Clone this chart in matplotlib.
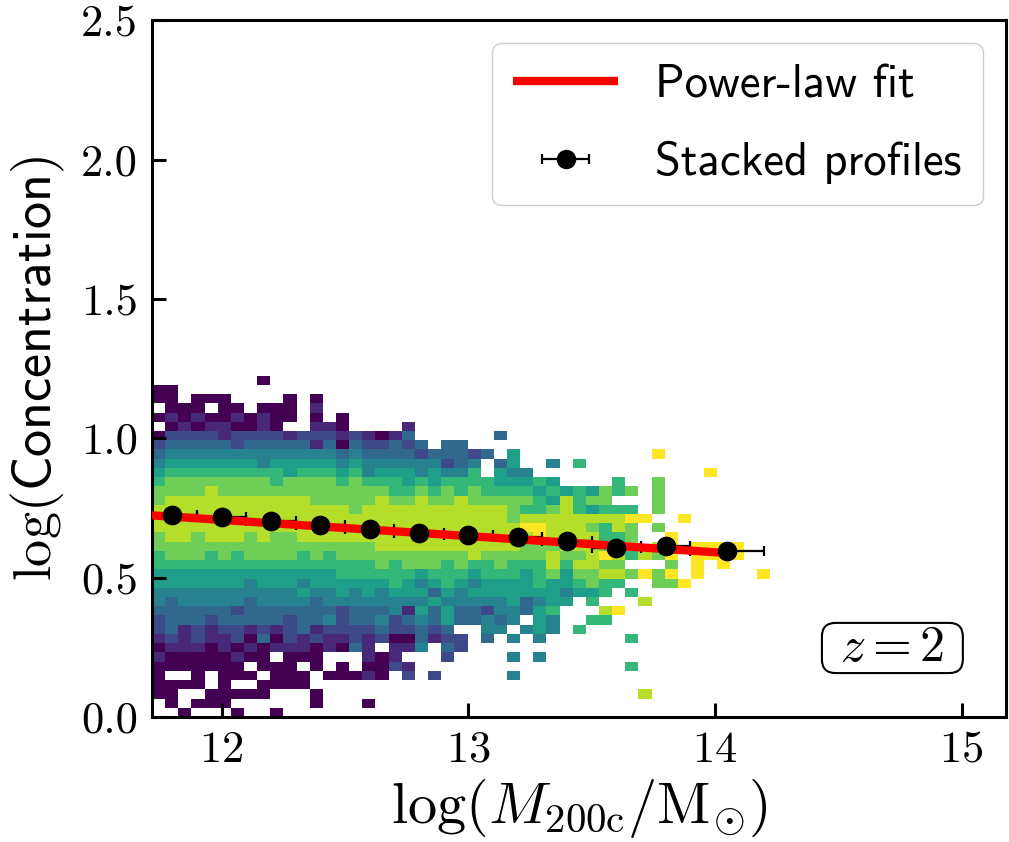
import numpy as np
import matplotlib.pyplot as plt
from matplotlib.patches import FancyBboxPatch

plt.rcParams['font.family'] = 'cmr10'
plt.rcParams['mathtext.fontset'] = 'cm'
plt.rcParams['axes.formatter.use_mathtext'] = True

# halo counts in the (mass, concentration) plane, column-normalised
# shade level 0..9 per cell, '.' = empty; rows go from the top bin down to log c = 0
hist_rows = [
    '........0.......' + '................' + '...............',
    '00..............' + '................' + '...............',
    '00.000....0.0...' + '................' + '...............',
    '.000.00.000.1...' + '................' + '...............',
    '01010010100.0.0.' + '................' + '...............',
    '.010110010..110.' + '...1............' + '...............',
    '0222212222122212' + '1013......3.....' + '...............',
    '2333332333331303' + '22323.33........' + '...............',
    '3444444444444434' + '3333233323.5....' + '......9........',
    '4555555545555545' + '444444234.35..4.' + '6..............',
    '5666666666566656' + '455545446.544...' + '..........9....',
    '6777777776777767' + '666565666655565.' + '...6..7........',
    '7777877777777777' + '7766767676666565' + '65767.7........',
    '7888888888887777' + '7877877877777658' + '677...7........',
    '8888888888888887' + '8888888888876678' + '65666.7........',
    '8888888888888888' + '8888888888878888' + '888899..9......',
    '8888888888888888' + '8888888888889988' + '87687.7........',
    '7887888787788888' + '8888888888888988' + '88667..9.......',
    '7777777777777777' + '7888888888887778' + '88788.89.9999..',
    '6777676777767677' + '7777777787777787' + '78986879.9999..',
    '6666666666666666' + '6767776766766686' + '8877...7.9.9...',
    '5555555555555566' + '6666566656665675' + '77887979.9....9',
    '5555555455545555' + '5565456545555655' + '6766..779......',
    '4444444444454454' + '5455535455555554' + '556.6..........',
    '4344444344443444' + '4444454444453455' + '.6...8.........',
    '3333332333333323' + '334153533244356.' + '..89...........',
    '2333233333233423' + '342343533434.54.' + '.66............',
    '2312122121231222' + '2322323..44.454.' + '6..............',
    '1212112030212112' + '12003122.3.4.4..' + '....6..........',
    '0111010101110103' + '1.114.32........' + '...............',
    '100000100.000...' + '101...2....4.4..' + '...............',
    '0000000.000.0.0.' + '0021............' + '....6..........',
    '0..0.000.000.000' + '10.2.2.....4....' + '...............',
    '0000.0..0000....' + '................' + '...............',
    '00..00000...0...' + '................' + '.....8.........',
    '.0.000......0...' + '0...............' + '...............',
    '..0...0..0......' + '................' + '...............',
]
x_lo, dx = 11.718, 0.0533   # log M200c bins
y_lo, dy = 0.0, 0.0331      # log c bins

# stacked-profile concentrations per mass bin
mass_bins = [11.8, 12.0, 12.2, 12.4, 12.6, 12.8, 13.0, 13.2, 13.4, 13.6, 13.8, 14.05]
conc_stack = [0.723, 0.716, 0.703, 0.690, 0.675, 0.659, 0.652, 0.645, 0.632, 0.605, 0.614, 0.594]
mass_err = [0.1, 0.1, 0.1, 0.1, 0.1, 0.1, 0.1, 0.1, 0.1, 0.1, 0.1, 0.15]

# power-law fit: log c = fit_norm + fit_slope * (log M - 12)
fit_norm = 0.707
fit_slope = -0.058
fit_range = (11.70, 14.03)

levels = np.array([[np.nan if ch == '.' else int(ch) for ch in row] for row in hist_rows[::-1]]) / 9.
ny, nx = levels.shape
x_edges = x_lo + dx * np.arange(nx + 1)
y_edges = y_lo + dy * np.arange(ny + 1)

fig = plt.figure(figsize=(10.09, 8.42), dpi=100)
ax = fig.add_axes([0.1506, 0.1485, 0.8464, 0.8275])

ax.pcolormesh(x_edges, y_edges, np.ma.masked_invalid(levels), cmap='viridis',
              vmin=0, vmax=1, zorder=1)

eb = ax.errorbar(mass_bins, conc_stack, xerr=mass_err, fmt='o', color='k', ms=13,
                 elinewidth=1.6, capsize=3.5, capthick=1.6, zorder=2, label='Stacked profiles')

xs = np.linspace(fit_range[0], fit_range[1], 50)
fit_line, = ax.plot(xs, fit_norm + fit_slope * (xs - 12), color='red', lw=6,
                    solid_capstyle='butt', zorder=3, label='Power-law fit')
ax.plot(mass_bins, conc_stack, 'o', color='k', ms=13, zorder=4)

ax.set_xlim(11.718, 15.18)
ax.set_ylim(0, 2.5)
ax.set_xticks([12, 13, 14, 15])
ax.set_yticks([0.0, 0.5, 1.0, 1.5, 2.0, 2.5])
ax.set_yticklabels(['0.0', '0.5', '1.0', '1.5', '2.0', '2.5'])
ax.tick_params(direction='in', length=10, width=2.2, labelsize=32, pad=10)
for s in ax.spines.values():
    s.set_linewidth(2.2)

ax.set_xlabel(r'$\log(M_{\rm 200c}/{\rm M}_{\odot})$', fontsize=42, labelpad=4)
ax.set_ylabel(r'$\log(\mathsf{Concentration})$', fontsize=39, labelpad=10)

leg = ax.legend([fit_line, eb], ['Power-law fit', 'Stacked profiles'], loc='upper right',
                prop={'family': 'cmss10', 'size': 33.5}, handlelength=2.25, handletextpad=0.8,
                framealpha=1, edgecolor='#cccccc', borderpad=0.45, labelspacing=0.75)

# redshift tag in a rounded box
box = FancyBboxPatch((0.7845, 0.063), 0.165, 0.072, transform=ax.transAxes,
                     boxstyle='round,pad=0,rounding_size=0.016', mutation_aspect=854 / 697,
                     facecolor='white', edgecolor='k', lw=1.5, zorder=5)
ax.add_patch(box)
ax.text(0.867, 0.099, r'$z = 2$', transform=ax.transAxes, fontsize=36,
        ha='center', va='center', zorder=6)

fig.savefig('out.png', dpi=100)
